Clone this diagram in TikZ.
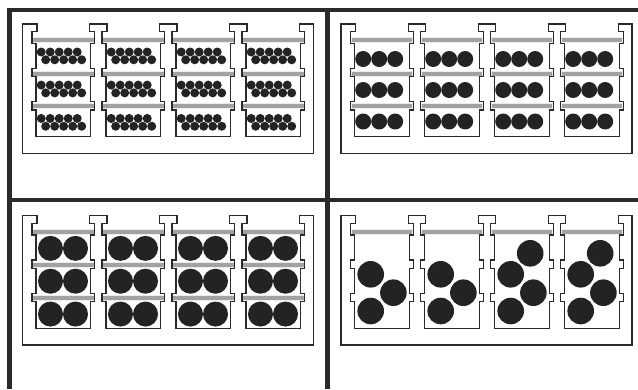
\documentclass[tikz,border=0pt]{standalone}
\definecolor{inkc}{HTML}{2A2A2A}
\definecolor{ballc}{HTML}{232323}
\definecolor{railc}{HTML}{A2A2A2}
\newcommand\holderframe{%
  \draw[frame] (0,0) foreach \lw in {13.7,83.7,153.7,223.7} {
    -- ({\lw+1},0) -- ({\lw+1},7.7) -- ({\lw-4},7.7) -- ({\lw-4},19.3)
    -- (\lw,19.3) -- (\lw,44.3) -- ({\lw-4},44.3) -- ({\lw-4},52.7)
    -- (\lw,52.7) -- (\lw,77.7) -- ({\lw-4},77.7) -- ({\lw-4},86)
    -- (\lw,86) -- (\lw,112.7)
    -- ({\lw+54.5},112.7) -- ({\lw+54.5},86) -- ({\lw+58.5},86) -- ({\lw+58.5},77.7)
    -- ({\lw+54.5},77.7) -- ({\lw+54.5},52.7) -- ({\lw+58.5},52.7) -- ({\lw+58.5},44.3)
    -- ({\lw+54.5},44.3) -- ({\lw+54.5},19.3) -- ({\lw+58.5},19.3) -- ({\lw+58.5},7.7)
    -- ({\lw+53.5},7.7) -- ({\lw+53.5},0)
  } -- (291,0) -- (291,129.3) -- (0,129.3) -- cycle;}
\newcommand\holderrails[1]{%
  \foreach \lw in {13.7,83.7,153.7,223.7} {
    \foreach \ry in {#1} {
      \path[rail] ({\lw-3.5},\ry) rectangle ({\lw+58},{\ry+5});
    }
  }}
\begin{document}
\begin{tikzpicture}[x=1pt,y=-1pt,
  frame/.style={draw=inkc, line width=1.1pt, line join=miter},
  rail/.style={fill=railc, draw=white!80!railc, line width=0.5pt},
  ball/.style={fill=ballc},
  border/.style={draw=inkc, line width=4.5pt}]
\useasboundingbox (0,0) rectangle (638,389);
\fill[white] (0,0) rectangle (638,389);
% thick grid
\draw[border] (7.25,10) -- (638,10);
\draw[border] (9.5,7.75) -- (9.5,389);
\draw[border] (327.5,10) -- (327.5,389);
\draw[border] (9.5,200) -- (638,200);
% panel 1: small balls
\begin{scope}[shift={(22.3,24)}]
  \holderrails{13.5,46.8,79.2}
  \holderframe
  \foreach \lw in {13.7,83.7,153.7,223.7} {
    \foreach \yc in {31.9,65,98.35} {
      \foreach \k in {0,...,4} {
        \fill[ball] ({\lw+5.2+9*\k},{\yc-3.9}) circle (4.5pt);
        \fill[ball] ({\lw+9.7+9*\k},{\yc+3.9}) circle (4.5pt);
      }
    }
  }
\end{scope}
% panel 2: three balls per compartment
\begin{scope}[shift={(341,24)}]
  \holderrails{13.5,46.8,79.2}
  \holderframe
  \foreach \lw in {13.7,83.7,153.7,223.7} {
    \foreach \yc in {35,66,97.5} {
      \foreach \k in {0,1,2} {
        \fill[ball] ({\lw+8.5+16*\k},\yc) circle (8pt);
      }
    }
  }
\end{scope}
% panel 3: two balls per compartment
\begin{scope}[shift={(22.3,215.7)}]
  \holderrails{13.5,46.8,79.2}
  \holderframe
  \foreach \lw in {13.7,83.7,153.7,223.7} {
    \foreach \yc in {32.65,65.5,98.35} {
      \fill[ball] ({\lw+14.5},\yc) circle (12.5pt);
      \fill[ball] ({\lw+39.5},\yc) circle (12.5pt);
    }
  }
\end{scope}
% panel 4: top rail only, loose balls
\begin{scope}[shift={(341,215.7)}]
  \holderrails{13.5}
  \holderframe
  \foreach \lw in {13.7,83.7,153.7,223.7} {
    \fill[ball] ({\lw+16},58.6) circle (13.3pt);
    \fill[ball] ({\lw+38.7},77) circle (13.3pt);
    \fill[ball] ({\lw+16},95.3) circle (13.3pt);
  }
  \foreach \lw in {153.7,223.7} {
    \fill[ball] ({\lw+35.5},37.6) circle (13.3pt);
  }
\end{scope}
\end{tikzpicture}
\end{document}
